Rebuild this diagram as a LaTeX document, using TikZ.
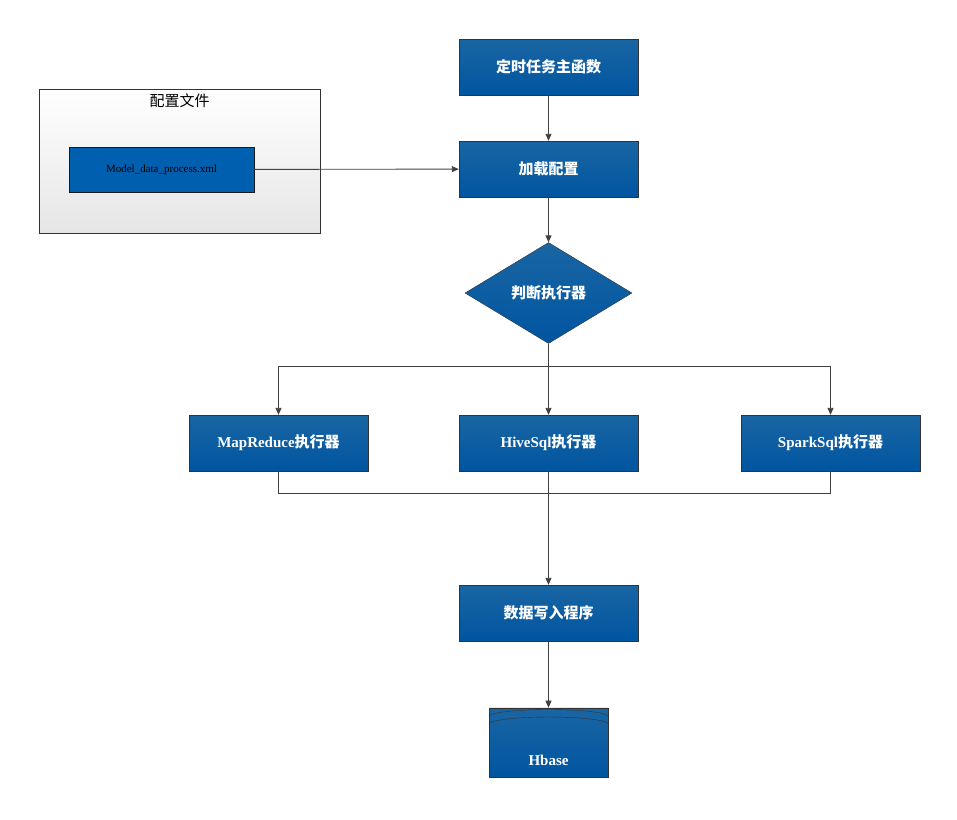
\documentclass[tikz,border=0pt]{standalone}
\usepackage{fontspec}
\setmainfont{Liberation Serif}
\newfontfamily\cjk{Noto Sans CJK SC}
\usetikzlibrary{shapes.geometric,arrows.meta}
\begin{document}
\begin{tikzpicture}[x=1pt,y=-1pt,
 box/.style={draw=black!80,top color=blue!45!cyan!60!black!90!white,bottom color={rgb,255:red,0;green,85;blue,160},
   minimum width=179pt,minimum height=56pt,text=white,font=\bfseries\fontsize{15}{18}\selectfont,inner sep=0pt},
 arr/.style={draw=black!75,line width=0.9pt,-{Triangle[length=7pt,width=6pt]}},
 ln/.style={draw=black!75,line width=0.9pt}]
\useasboundingbox (0,0) rectangle (957,819);
\colorlet{bt}{blue!45!cyan!60!black!90!white}
\node[box] (main) at (548.5,67) {\cjk 定时任务主函数};
\node[box] (load) at (548.5,169) {\cjk 加载配置};
\node[diamond,draw=black!80,top color=bt,bottom color={rgb,255:red,0;green,85;blue,160},aspect=1.65,minimum width=167pt,minimum height=101pt,inner sep=0pt,text=white,font=\bfseries\fontsize{15}{18}\selectfont] (judge) at (548.5,293) {\cjk 判断执行器};
\node[box] (mr) at (278.5,443) {MapReduce{\cjk 执行器}};
\node[box] (hs) at (548.5,443) {HiveSql{\cjk 执行器}};
\node[box] (ss) at (830.5,443) {SparkSql{\cjk 执行器}};
\node[box] (write) at (548.5,613) {\cjk 数据写入程序};
% config file
\node[draw=black!80,top color=white,bottom color=black!10,minimum width=281pt,minimum height=144pt,inner sep=0pt] (cfg) at (179.5,161) {};
\node[font=\cjk\fontsize{15}{18}\selectfont,anchor=north] (cfgt) at (179.5,90) {配置文件};
\node[draw=black!90,fill={rgb,255:red,0;green,95;blue,175},minimum width=185pt,minimum height=45pt,inner sep=0pt,font=\fontsize{11}{13}\selectfont] (xml) at (161.5,169.5) {Model\_data\_process.xml};
% cylinder
\node[cylinder,shape border rotate=90,draw=black!80,top color=bt,bottom color={rgb,255:red,0;green,85;blue,160},aspect=0.12,minimum width=119pt,minimum height=69pt,inner sep=0pt] (hb) at (548.5,742.5) {};
\node[text=white,font=\bfseries\fontsize{15}{18}\selectfont] at (548.5,760) {Hbase};
\draw[draw=black!80] (489,716.5) arc[start angle=180,end angle=360,x radius=59.5,y radius=7];
\draw[draw=black!80] (489,724) arc[start angle=180,end angle=360,x radius=59.5,y radius=7];
% connectors
\draw[arr] (main) -- (load);
\draw[arr] (xml) -- (load);
\draw[arr] (load) -- (judge);
\draw[arr] (judge.south) -- (hs);
\draw[ln] (278.5,366) -- (830.5,366);
\draw[arr] (278.5,366) -- (mr.north);
\draw[arr] (830.5,366) -- (ss.north);
\draw[ln] (mr.south) -- (278.5,493) -- (830.5,493) -- (ss.south);
\draw[arr] (hs.south) -- (write);
\draw[arr] (write) -- (hb.top);
\end{tikzpicture}
\end{document}
